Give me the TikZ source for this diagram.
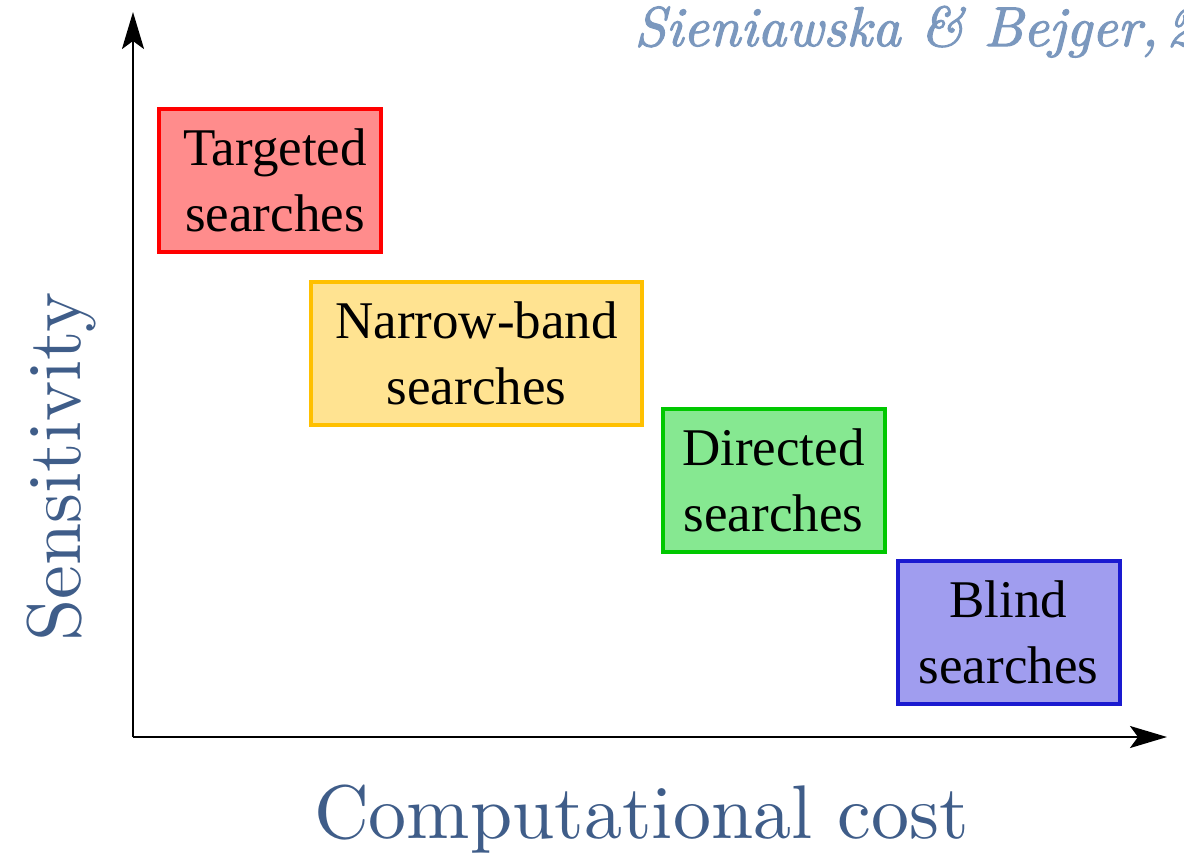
\documentclass[tikz,border=0pt]{standalone}
\usepackage{fontspec}
\newfontfamily\boxfont{Liberation Serif}
\newfontfamily\lblfont{lmroman10-regular.otf}
\newfontfamily\citefont[FakeBold=2]{lmroman10-italic.otf}
\usetikzlibrary{arrows.meta}
\definecolor{lblue}{HTML}{3F5D89}
\definecolor{cite}{HTML}{7B98BE}
\begin{document}
\begin{tikzpicture}[x=0.5pt,y=-0.5pt,
    srch/.style={draw,line width=2pt,minimum width=111pt,minimum height=71.5pt,
                 align=center,inner sep=0pt,
                 font=\boxfont\fontsize{26.5}{33}\selectfont},
    axis/.style={line width=1.2pt,-{Stealth[length=18.5pt,width=11pt,inset=4pt]}},
    lbl/.style={text=lblue,inner sep=0pt,font=\lblfont\fontsize{38}{40}\selectfont}]
  \useasboundingbox (0,0) rectangle (1184,857);
  %-------------------------------------------------- axes
  \coordinate (o) at (133,737);
  \coordinate (ytip) at (133,12);
  \coordinate (xtip) at (1167,737);
  \draw[axis] (o) -- (ytip);
  \draw[axis] (o) -- (xtip);
  \node[lbl,rotate=90,anchor=base] (sens) at (80,467) {Sensitivity};
  \node[lbl,anchor=base] (cost) at (641.5,838) {Computational cost};
  %-------------------------------------------------- the four kinds of search
  % text in the first box sits a little right of its middle
  \node[srch,draw=red,fill=red!45] (targ) at (270,180.5)
    {\hspace{5pt}Targeted\\\hspace{5pt}searches};
  \node[srch,draw={rgb,255:red,255;green,192;blue,0},
        fill={rgb,255:red,255;green,227;blue,145},
        minimum width=165.5pt] (narrow) at (476.5,353)
    {Narrow-band\\searches};
  \node[srch,draw={rgb,255:red,0;green,200;blue,0},
        fill={rgb,255:red,134;green,232;blue,145}] (direct) at (773.5,480)
    {Directed\\searches};
  \node[srch,draw={rgb,255:red,26;green,26;blue,208},
        fill={rgb,255:red,160;green,157;blue,239}] (blind) at (1008.5,632)
    {Blind\\searches};
  %-------------------------------------------------- reference, cut by the page
  \node[text=cite,anchor=base west,inner sep=0pt,
        font=\citefont\fontsize{28}{30}\selectfont] (ref) at (634,46)
    {Sieniawska \& Bejger,\hspace{4pt}2019};
\end{tikzpicture}
\end{document}
